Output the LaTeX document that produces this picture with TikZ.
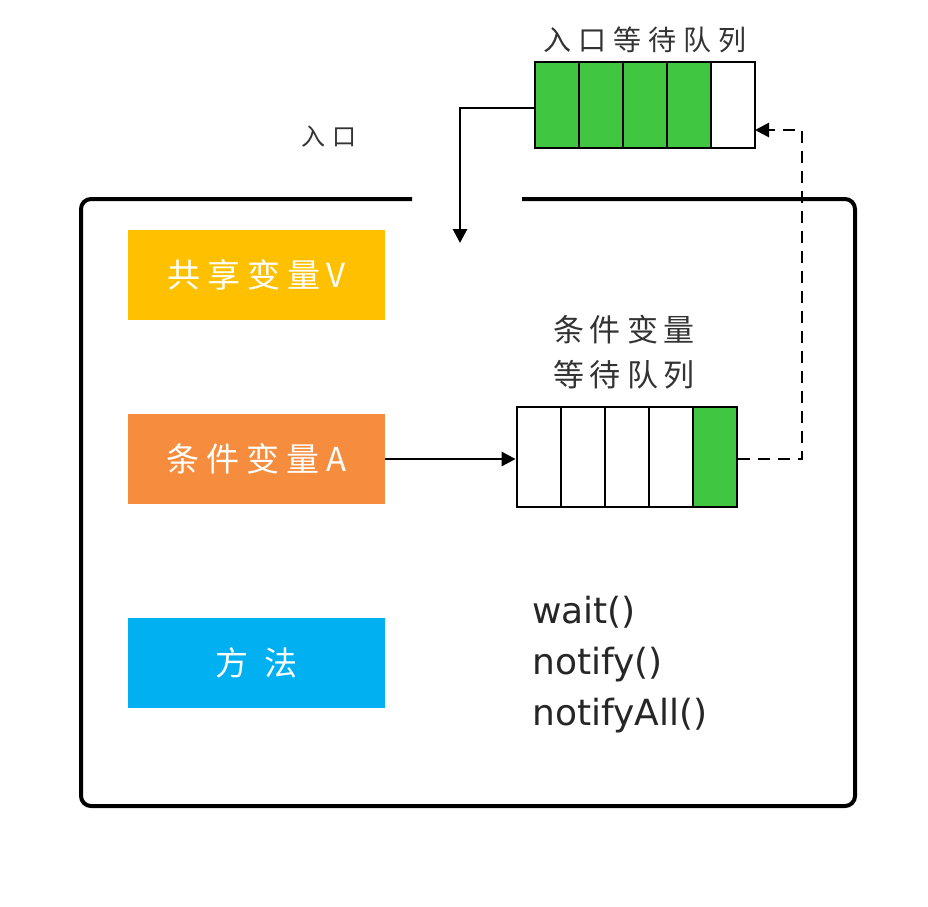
\documentclass[tikz,border=0pt]{standalone}
\usepackage{fontspec}
\setmainfont{DejaVu Sans}
\newfontfamily\cjk{Noto Sans CJK SC}
\usetikzlibrary{arrows.meta}
\definecolor{qgreen}{RGB}{64,198,64}
\definecolor{boxyellow}{RGB}{255,192,0}
\definecolor{boxorange}{RGB}{245,140,62}
\definecolor{boxblue}{RGB}{0,176,240}
\newcommand\gpa{\hspace{7pt}}
\newcommand\gpb{\hspace{6pt}}
\newcommand\gpc{\hspace{8pt}}
\newcommand\gpd{\hspace{16pt}}
\newcommand\gpe{\hspace{7pt}}
\tikzset{
  frame/.style={line width=4pt, rounded corners=10pt},
  cbox/.style={minimum width=257pt, minimum height=90pt, inner sep=0pt, text=white, font=\cjk\fontsize{33}{35}\selectfont},
  ecell/.style={draw=black, line width=2.8pt, minimum width=44pt, minimum height=86pt, inner sep=0pt},
  ccell/.style={draw=black, line width=2.8pt, minimum width=44pt, minimum height=100pt, inner sep=0pt},
  arr/.style={line width=2.8pt, -{Triangle[length=14pt,width=14pt]}},
  lbl/.style={font=\cjk\fontsize{28}{30}\selectfont, text=black!80, inner sep=0pt},
  code/.style={font=\fontsize{36}{40}\selectfont, anchor=base west, inner sep=0pt, text=black!85}
}
\begin{document}
\begin{tikzpicture}[x=1pt,y=-1pt]
\useasboundingbox (0,0) rectangle (928,906);
\fill[white] (0,0) rectangle (928,906);

% outer frame with entry gap
\coordinate (gapL) at (412,199);
\coordinate (gapR) at (522,199);
\draw[frame] (gapL) -- (81,199) -- (81,806) -- (855,806) -- (855,199) -- (gapR);

% coloured boxes
\node[cbox, fill=boxyellow] (shared) at (256.5,274.5) {共\gpa 享\gpa 变\gpa 量\gpa V};
\node[cbox, fill=boxorange] (condA) at (256.5,459) {条\gpa 件\gpa 变\gpa 量\gpa A};
\node[cbox, fill=boxblue] (method) at (256.5,662.5) {方\gpd 法};

% entry queue
\node[lbl] (entrylbl) at (645,40) {入\gpe 口\gpe 等\gpe 待\gpe 队\gpe 列};
\node[ecell, fill=qgreen] (e1) at (557,105) {};
\node[ecell, fill=qgreen] (e2) at (601,105) {};
\node[ecell, fill=qgreen] (e3) at (645,105) {};
\node[ecell, fill=qgreen] (e4) at (689,105) {};
\node[ecell, fill=white] (e5) at (733,105) {};

% entry label
\node[lbl, font=\cjk\fontsize{24}{26}\selectfont] (entry) at (329,137) {入\gpc 口};

% condition queue
\node[lbl, font=\cjk\fontsize{31}{33}\selectfont] (condlbl1) at (624,330) {条\gpb 件\gpb 变\gpb 量};
\node[lbl, font=\cjk\fontsize{31}{33}\selectfont] (condlbl2) at (624,375) {等\gpb 待\gpb 队\gpb 列};
\node[ccell, fill=white] (c1) at (539,457) {};
\node[ccell, fill=white] (c2) at (583,457) {};
\node[ccell, fill=white] (c3) at (627,457) {};
\node[ccell, fill=white] (c4) at (671,457) {};
\node[ccell, fill=qgreen] (c5) at (715,457) {};

% methods
\node[code] (wait) at (532,623) {wait()};
\node[code] (notify) at (532,674) {notify()};
\node[code] (notifyall) at (532,725) {notifyAll()};

% connectors
\coordinate (entryEnd) at (460,243);
\draw[arr] ([yshift=-3pt]e1.west) -| (entryEnd);
\draw[arr] (condA.east) -- (condA.east -| c1.west);
\coordinate (dashTurn) at (802,459);
\coordinate (e5in) at (755,130);
\draw[arr, dash pattern=on 12pt off 8pt] (c5.east |- dashTurn) -- (dashTurn) |- (e5in);
\end{tikzpicture}
\end{document}
